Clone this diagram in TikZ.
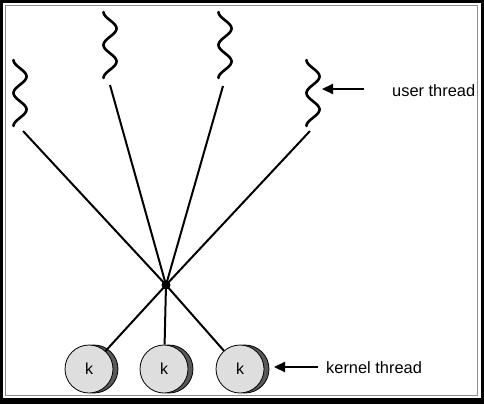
\documentclass[tikz,border=0pt]{standalone}
\usepackage{fontspec}
\setmainfont{Liberation Sans}
\usetikzlibrary{arrows.meta}
\begin{document}
\begin{tikzpicture}[x=1pt,y=-1pt,
  squig/.style={line width=2.6pt,line cap=round},
  conn/.style={line width=2pt},
  arr/.style={line width=2.2pt,-{Triangle[length=11pt,width=10pt]}},
  kface/.style={circle,draw=black,line width=0.8pt,fill=black!13,minimum size=48pt,inner sep=0pt,font=\fontsize{16}{19}\selectfont},
  kback/.style={draw=black,line width=0.8pt,fill=black!65},
  lbl/.style={font=\fontsize{16.4}{19}\selectfont,inner sep=0pt,anchor=base west},
  hubstyle/.style={circle,fill=black,minimum size=9pt,inner sep=0pt}]
\useasboundingbox (0,0) rectangle (484,404);
% frame
\fill[black] (0,0) rectangle (484,404);
\fill[white] (3,3) rectangle (480.5,398);
\draw[black!45,line width=1.2pt] (5.5,5.5) rectangle (477.5,395.5);
% user threads (wavy)
\draw[squig] plot[domain=0:66,samples=90,smooth] ({20-6.5*cos(\x*10.909)},{60+\x});
\draw[squig] plot[domain=0:66,samples=90,smooth] ({110-6.5*cos(\x*10.909)},{12+\x});
\draw[squig] plot[domain=0:66,samples=90,smooth] ({225-6.5*cos(\x*10.909)},{12+\x});
\draw[squig] plot[domain=0:66,samples=90,smooth] ({313-6.5*cos(\x*10.909)},{60+\x});
% hub
\node[hubstyle] (hub) at (166,285) {};
\coordinate (u1) at (23,131);
\coordinate (u2) at (110,85);
\coordinate (u3) at (223,86);
\coordinate (u4) at (310,131);
\foreach \u in {u1,u2,u3,u4} \draw[conn] (\u) -- (hub.center);
% kernel threads
\foreach \cx in {89,164,240} \filldraw[kback] (\cx+5,369) circle[radius=24pt];
\node[kface] (k1) at (89,369) {k};
\node[kface] (k2) at (164,369) {k};
\node[kface] (k3) at (240,369) {k};
\foreach \k in {k1,k2,k3} \draw[conn] (hub.center) -- (\k);
% labels and arrows
\coordinate (ua) at (364,89);
\coordinate (ut) at (322,89);
\draw[arr] (ua) -- (ut);
\node[lbl] (ulabel) at (392,96) {user thread};
\coordinate (ka) at (318,367);
\coordinate (kt) at (274,367);
\draw[arr] (ka) -- (kt);
\node[lbl] (klabel) at (326,373) {kernel thread};
\end{tikzpicture}
\end{document}
